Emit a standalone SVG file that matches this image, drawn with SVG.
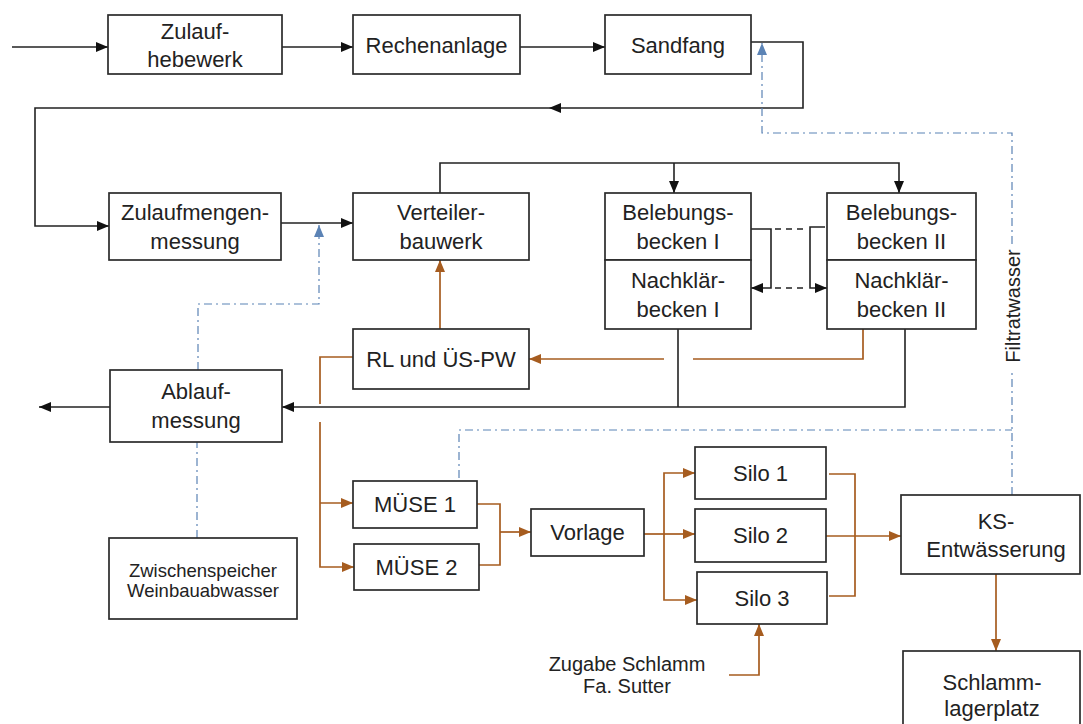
<svg xmlns="http://www.w3.org/2000/svg" width="1083" height="724" viewBox="0 0 1083 724">
<style>
.box{fill:#fff;stroke:#2b2b2b;stroke-width:1.7}
.t{font-family:"Liberation Sans",Arial,sans-serif;font-size:22px;fill:#222;text-anchor:middle}
.s{font-size:18.5px}
.f{font-size:20px}
.k{fill:none;stroke:#222;stroke-width:1.6}
.kd{fill:none;stroke:#222;stroke-width:1.6;stroke-dasharray:6 5}
.o{fill:none;stroke:#a65c1f;stroke-width:1.7}
.b{fill:none;stroke:#5b83b5;stroke-width:1.2;stroke-dasharray:8 4 2 4}
</style>
<defs>
<marker id="ak" markerUnits="userSpaceOnUse" markerWidth="13" markerHeight="13" viewBox="0 0 13 13" refX="12" refY="6.5" orient="auto"><path d="M0,1.5 L12,6.5 L0,11.5 z" fill="#111"/></marker>
<marker id="ao" markerUnits="userSpaceOnUse" markerWidth="13" markerHeight="13" viewBox="0 0 13 13" refX="12" refY="6.5" orient="auto"><path d="M0,1.5 L12,6.5 L0,11.5 z" fill="#a65c1f"/></marker>
<marker id="ab" markerUnits="userSpaceOnUse" markerWidth="13" markerHeight="13" viewBox="0 0 13 13" refX="12" refY="6.5" orient="auto"><path d="M0,1.5 L12,6.5 L0,11.5 z" fill="#5b83b5"/></marker>
</defs>

<g id="connectors">
<!-- black -->
<path class="k" d="M12,47 H108" marker-end="url(#ak)"/>
<path class="k" d="M282,47 H353" marker-end="url(#ak)"/>
<path class="k" d="M520,47 H605" marker-end="url(#ak)"/>
<path class="k" d="M751,42 H803 V108 H35 V226 H109" marker-end="url(#ak)"/>
<path d="M549,108 L561,103 L561,113 z" fill="#111"/>
<path class="k" d="M281,223 H353" marker-end="url(#ak)"/>
<path class="k" d="M440,193 V163 H899 V193" marker-end="url(#ak)"/>
<path class="k" d="M674,163 V193" marker-end="url(#ak)"/>
<path class="k" d="M751,229 H771 V288 H751" marker-end="url(#ak)"/>
<path class="k" d="M825,227 H810 V288 H827" marker-end="url(#ak)"/>
<path class="kd" d="M775,229 H808"/>
<path class="kd" d="M775,288 H808"/>
<path class="k" d="M678,329 V407"/>
<path class="k" d="M905,329 V407 H282" marker-end="url(#ak)"/>
<path class="k" d="M110,407 H39" marker-end="url(#ak)"/>
<!-- orange -->
<path class="o" d="M440,329 V260" marker-end="url(#ao)"/>
<path class="o" d="M863,329 V359 H693"/>
<path class="o" d="M664,359 H529" marker-end="url(#ao)"/>
<path class="o" d="M353,357 H320 V404"/>
<path class="o" d="M320,422 V567 H354" marker-end="url(#ao)"/>
<path class="o" d="M320,503 H353" marker-end="url(#ao)"/>
<path class="o" d="M477,504 H500 V565 H479"/>
<path class="o" d="M500,532 H531" marker-end="url(#ao)"/>
<path class="o" d="M644,534 H664"/>
<path class="o" d="M664,534 V473 H695" marker-end="url(#ao)"/>
<path class="o" d="M664,534 H695" marker-end="url(#ao)"/>
<path class="o" d="M664,534 V600 H697" marker-end="url(#ao)"/>
<path class="o" d="M829,474 H855 V596 H829"/>
<path class="o" d="M826,536 H901" marker-end="url(#ao)"/>
<path class="o" d="M996,574 V651" marker-end="url(#ao)"/>
<path class="o" d="M729,675 H759 V624" marker-end="url(#ao)"/>
<!-- blue dash-dot -->
<path class="b" d="M459,478 V430 H1012"/>
<path class="b" d="M1012,495 V372"/>
<path class="b" d="M1012,244 V133 H762 V43" marker-end="url(#ab)"/>
<path class="b" d="M197,538 V442"/>
<path class="b" d="M198,370 V304 H319 V225" marker-end="url(#ab)"/>
</g>

<g id="zulaufhebewerk"><rect class="box" x="108" y="15" width="174" height="59"/><text class="t" x="195" y="39">Zulauf-</text><text class="t" x="195" y="67">hebewerk</text></g>
<g id="rechenanlage"><rect class="box" x="353" y="15" width="167" height="59"/><text class="t" x="436.5" y="53">Rechenanlage</text></g>
<g id="sandfang"><rect class="box" x="605" y="15" width="146" height="59"/><text class="t" x="678" y="53">Sandfang</text></g>
<g id="zulaufmengenmessung"><rect class="box" x="109" y="193" width="172" height="67"/><text class="t" x="195" y="220">Zulaufmengen-</text><text class="t" x="195" y="249">messung</text></g>
<g id="verteilerbauwerk"><rect class="box" x="353" y="193" width="176" height="67"/><text class="t" x="441" y="220">Verteiler-</text><text class="t" x="441" y="249">bauwerk</text></g>
<g id="belebung1"><rect class="box" x="605" y="193" width="146" height="67"/><text class="t" x="678" y="220">Belebungs-</text><text class="t" x="678" y="249">becken I</text></g>
<g id="nachklaer1"><rect class="box" x="605" y="260" width="146" height="69"/><text class="t" x="678" y="288">Nachklär-</text><text class="t" x="678" y="317">becken I</text></g>
<g id="belebung2"><rect class="box" x="827" y="193" width="149" height="67"/><text class="t" x="901.5" y="220">Belebungs-</text><text class="t" x="901.5" y="249">becken II</text></g>
<g id="nachklaer2"><rect class="box" x="827" y="260" width="149" height="69"/><text class="t" x="901.5" y="288">Nachklär-</text><text class="t" x="901.5" y="317">becken II</text></g>
<g id="rlpw"><rect class="box" x="353" y="329" width="176" height="60"/><text class="t" x="441" y="367">RL und ÜS-PW</text></g>
<g id="ablaufmessung"><rect class="box" x="110" y="370" width="172" height="72"/><text class="t" x="196" y="399">Ablauf-</text><text class="t" x="196" y="428">messung</text></g>
<g id="zwischenspeicher"><rect class="box" x="109" y="538" width="188" height="81"/><text class="t s" x="203" y="577">Zwischenspeicher</text><text class="t s" x="203" y="597">Weinbauabwasser</text></g>
<g id="muese1"><rect class="box" x="353" y="481" width="124" height="47"/><text class="t" x="415" y="512">MÜSE 1</text></g>
<g id="muese2"><rect class="box" x="354" y="544" width="125" height="46"/><text class="t" x="416.5" y="575">MÜSE 2</text></g>
<g id="vorlage"><rect class="box" x="531" y="509" width="113" height="47"/><text class="t" x="587.5" y="540">Vorlage</text></g>
<g id="silo1"><rect class="box" x="695" y="447" width="131" height="52"/><text class="t" x="760.5" y="481">Silo 1</text></g>
<g id="silo2"><rect class="box" x="695" y="509" width="131" height="53"/><text class="t" x="760.5" y="543">Silo 2</text></g>
<g id="silo3"><rect class="box" x="697" y="572" width="130" height="52"/><text class="t" x="762" y="606">Silo 3</text></g>
<g id="ksentwaesserung"><rect class="box" x="901" y="495" width="179" height="79"/><text class="t" x="996" y="529">KS-</text><text class="t" x="996" y="557">Entwässerung</text></g>
<g id="schlammlagerplatz"><rect class="box" x="903" y="651" width="177" height="80"/><text class="t" x="992" y="690">Schlamm-</text><text class="t" x="992" y="716">lagerplatz</text></g>
<g id="zugabe"><text class="t f" x="627" y="671">Zugabe Schlamm</text><text class="t f" x="627" y="693">Fa. Sutter</text></g>
<g id="filtratwasser"><text class="t f" transform="translate(1020,306) rotate(-90)" x="0" y="0">Filtratwasser</text></g>
</svg>
